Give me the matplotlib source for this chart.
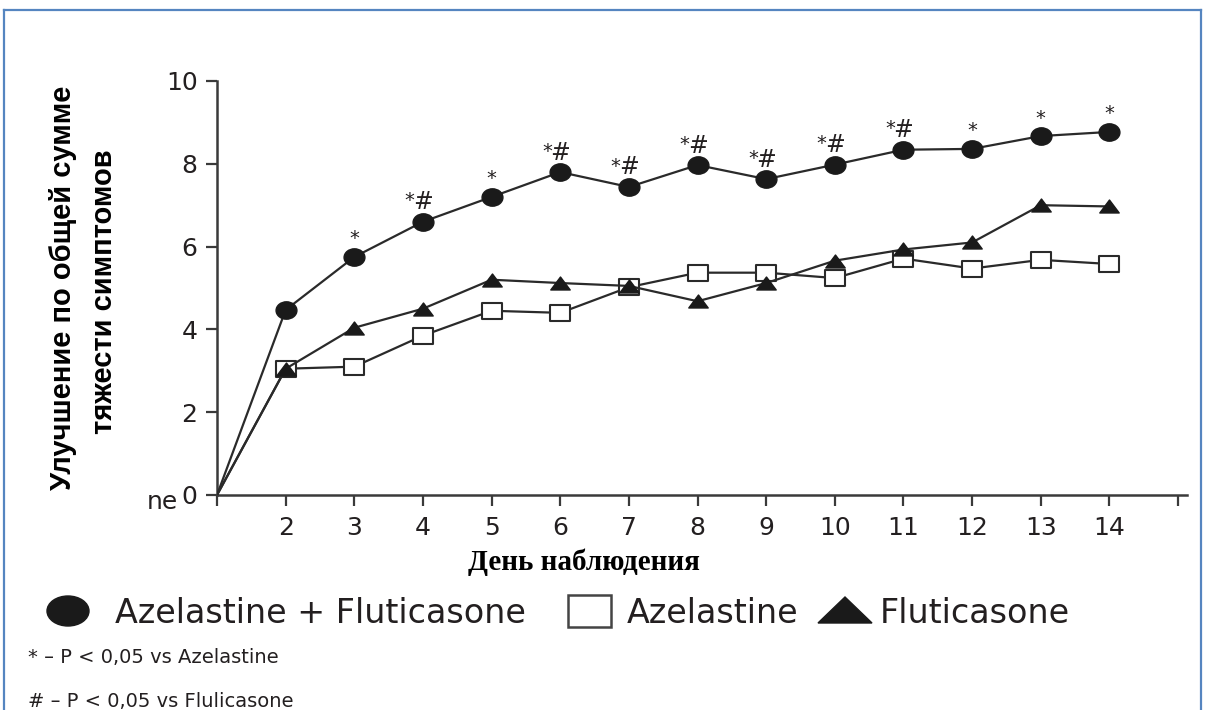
import matplotlib
matplotlib.use("Agg")
import matplotlib.pyplot as plt
import numpy as np
from matplotlib.path import Path
from matplotlib.patches import Ellipse, Rectangle, Polygon

# observation days (1 = baseline)
days = [1, 2, 3, 4, 5, 6, 7, 8, 9, 10, 11, 12, 13, 14]
combo = [0, 4.47, 5.75, 6.6, 7.2, 7.8, 7.44, 7.97, 7.63, 7.98, 8.34, 8.36, 8.67, 8.77]
azelastine = [0, 3.05, 3.1, 3.85, 4.45, 4.4, 5.02, 5.37, 5.37, 5.24, 5.71, 5.47, 5.68, 5.58]
fluticasone = [0, 3.05, 4.04, 4.5, 5.2, 5.12, 5.05, 4.68, 5.12, 5.66, 5.93, 6.1, 7.0, 6.97]
# significance marks above the combination series
signif = ["", "", "*", "*#", "*", "*#", "*#", "*#", "*#", "*#", "*#", "*", "*", "*"]

y_ticks = [0, 2, 4, 6, 8, 10]
x_ticks = list(range(1, 16))
x_labels = [""] + [str(d) for d in range(2, 15)] + [""]

W, H = 1207, 710
fig = plt.figure(figsize=(W / 100, H / 100), dpi=100)

# squashed marker shapes (source picture is stretched horizontally)
circ = Path.unit_circle()
circ = Path(circ.vertices * [1.2, 1.0], circ.codes)
tri = Path([(-0.75, -0.5), (0.75, -0.5), (0, 0.5), (-0.75, -0.5)], closed=True)
sq = Path([(-0.61, -0.5), (0.61, -0.5), (0.61, 0.5), (-0.61, 0.5), (-0.61, -0.5)], closed=True)

line_col = "#2a2a2a"
text_col = "#231f20"
marks = list(range(1, 14))

ax = fig.add_axes([217 / W, 1 - 495 / H, 970 / W, 414 / H])
ax.plot(days, azelastine, color=line_col, lw=1.6, marker=sq, ms=14,
        mfc="white", mec=line_col, mew=1.5, markevery=marks, zorder=3)
ax.plot(days, fluticasone, color=line_col, lw=1.6, marker=tri, ms=14,
        mfc="#1a1a1a", mec="#1a1a1a", markevery=marks, zorder=4)
ax.plot(days, combo, color=line_col, lw=1.6, marker=circ, ms=15,
        mfc="#1a1a1a", mec="#1a1a1a", markevery=marks, zorder=5)

for d, v, s in zip(days, combo, signif):
    if s == "*":
        ax.annotate("*", (d, v), xytext=(0, 9), textcoords="offset points",
                    ha="center", va="baseline", fontsize=14, color=text_col)
    elif s == "*#":
        ax.annotate("#", (d, v), xytext=(0, 9), textcoords="offset points",
                    ha="center", va="baseline", fontsize=17, color=text_col)
        ax.annotate("*", (d, v), xytext=(-6, 11), textcoords="offset points",
                    ha="right", va="baseline", fontsize=14, color=text_col)

ax.set_xlim(1, 15.13)
ax.set_ylim(0, 10)
ax.set_xticks(x_ticks)
ax.set_xticklabels(x_labels)
ax.set_yticks(y_ticks)
for side in ["top", "right"]:
    ax.spines[side].set_visible(False)
for side in ["left", "bottom"]:
    ax.spines[side].set_color("#3a3a3a")
    ax.spines[side].set_linewidth(1.8)
ax.tick_params(axis="both", direction="out", length=8, width=1.6, color="#3a3a3a",
               labelsize=18, labelcolor=text_col)
ax.tick_params(axis="x", pad=7)
ax.tick_params(axis="y", pad=6)
ax.patch.set_alpha(0)

# overlay in pixel coordinates for frame, labels and legend
ov = fig.add_axes([0, 0, 1, 1], zorder=-1)
ov.set_xlim(0, W)
ov.set_ylim(H, 0)
ov.axis("off")

frame_col = "#5585c0"
ov.plot([4, 1201], [10, 10], color=frame_col, lw=1.6)
ov.plot([4, 4], [10, H], color=frame_col, lw=1.6)
ov.plot([1201, 1201], [10, H], color=frame_col, lw=1.6)

ov.text(63, 288, "Улучшение по общей сумме", rotation=90, ha="center", va="center",
        fontsize=21, fontweight="bold", family="Liberation Sans", color="black")
ov.text(104, 292, "тяжести симптомов", rotation=90, ha="center", va="center",
        fontsize=21, fontweight="bold", family="Liberation Sans", color="black")
ov.text(162, 502, "ne", ha="center", va="center", fontsize=18, color=text_col)

ov.text(584, 562, "День наблюдения", ha="center", va="center",
        fontsize=21, fontweight="bold", family="Liberation Serif", color="black")

# legend
ov.add_patch(Ellipse((68, 611), 42, 30, color="#1a1a1a"))
ov.text(115, 623, "Azelastine + Fluticasone", ha="left", va="baseline",
        fontsize=24, color=text_col)
ov.add_patch(Rectangle((568, 595), 43, 32, fill=False, ec="#444444", lw=1.8))
ov.text(627, 623, "Azelastine", ha="left", va="baseline", fontsize=24, color=text_col)
ov.add_patch(Polygon([(818, 623), (872, 623), (845, 597)], closed=True, color="#1a1a1a"))
ov.text(880, 623, "Fluticasone", ha="left", va="baseline", fontsize=24, color=text_col)

ov.text(28, 663, "* – P < 0,05 vs Azelastine", ha="left", va="baseline",
        fontsize=14, color=text_col)
ov.text(28, 707, "# – P < 0,05 vs Flulicasone", ha="left", va="baseline",
        fontsize=14, color=text_col)

fig.savefig("out.png", dpi=100)
